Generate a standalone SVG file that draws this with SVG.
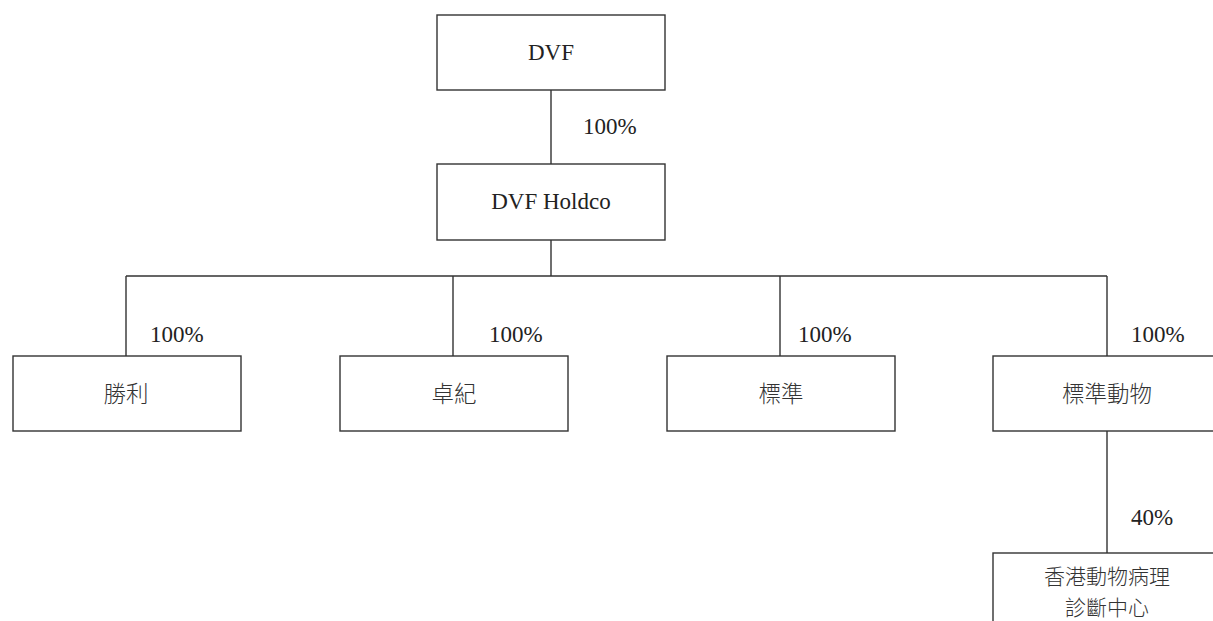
<svg xmlns="http://www.w3.org/2000/svg" width="1213" height="621" viewBox="0 0 1213 621">
<style>
.box{fill:#fff;stroke:#333;stroke-width:1.4}
.ln{stroke:#333;stroke-width:1.4;fill:none}
.t{font-family:"Liberation Serif","Noto Serif CJK TC",serif;font-size:23px;fill:#222}
.c{font-family:"Noto Sans CJK TC",sans-serif;font-size:22.5px;font-weight:300;fill:#333}
.s{font-size:21px}
.m{text-anchor:middle}
</style>
<rect width="1213" height="621" fill="#fff"/>
<g id="connectors">
<path class="ln" d="M551 90V164M551 240V276M126 276H1107M126 276V356M453 276V356M780 276V356M1107 276V356M1107 431V553"/>
<text class="t" x="583" y="134">100%</text>
<text class="t" x="150" y="342">100%</text>
<text class="t" x="489" y="342">100%</text>
<text class="t" x="798" y="342">100%</text>
<text class="t" x="1131" y="342">100%</text>
<text class="t" x="1131" y="525">40%</text>
</g>
<g id="n-dvf"><rect class="box" x="437" y="15" width="228" height="75"/><text class="t m" x="551" y="60">DVF</text></g>
<g id="n-holdco"><rect class="box" x="437" y="164" width="228" height="76"/><text class="t m" x="551" y="209">DVF Holdco</text></g>
<g id="n-1"><rect class="box" x="13" y="356" width="228" height="75"/><text class="c m" x="126" y="402">勝利</text></g>
<g id="n-2"><rect class="box" x="340" y="356" width="228" height="75"/><text class="c m" x="454" y="402">卓紀</text></g>
<g id="n-3"><rect class="box" x="667" y="356" width="228" height="75"/><text class="c m" x="781" y="402">標準</text></g>
<g id="n-4"><rect class="box" x="993" y="356" width="228" height="75"/><text class="c m" x="1107" y="402">標準動物</text></g>
<g id="n-5"><rect class="box" x="993" y="553" width="228" height="80"/><text class="c s m" x="1107" y="584">香港動物病理</text><text class="c s m" x="1107" y="615">診斷中心</text></g>
</svg>
